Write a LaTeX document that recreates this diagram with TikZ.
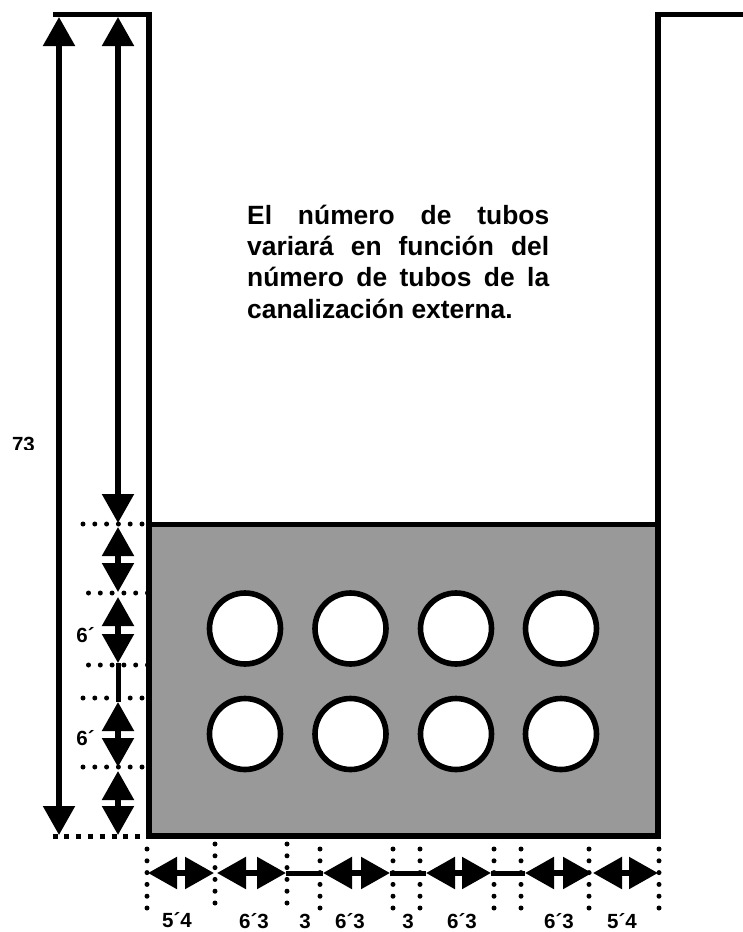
\documentclass[tikz,border=0pt]{standalone}
\usepackage{fontspec}
\setmainfont{Liberation Sans}
\usetikzlibrary{arrows.meta}
\tikzset{x=1pt,y=-1pt,
 wall/.style={line width=5.4pt,line cap=butt,line join=miter},
 dim/.style={line width=5pt},
 dimarrow/.style={line width=5.4pt,{Triangle[length=29pt,width=31pt]}-{Triangle[length=29pt,width=31pt]}},
 dots/.style={line width=5pt,line cap=round,dash pattern=on 0pt off 11.8pt},
 tube/.style={draw=black,fill=white,line width=5.6pt,circle,minimum size=71pt,inner sep=0pt},
 lab/.style={font=\bfseries\fontsize{20.5}{22}\selectfont,inner sep=0pt},
 note/.style={font=\bfseries\fontsize{26.4}{31.2}\selectfont,inner sep=0pt,text width=302pt,align=justify,anchor=north west}}
\begin{document}
\begin{tikzpicture}
\useasboundingbox (0,0) rectangle (743,932);
\coordinate (tl0) at (53,14.5);
\coordinate (tl) at (149,14.5);
\coordinate (bl) at (149,836);
\coordinate (br) at (658,836);
\coordinate (tr) at (658,14.5);
\coordinate (tr1) at (743,14.5);
\coordinate (ml) at (149,524.5);
\coordinate (mr) at (658,524.5);
\fill[black!40!white] (ml) rectangle (br);
\draw[wall] (tl0) -- (tl) -- (bl) -- (br) -- (tr) -- (tr1);
\draw[wall] (ml) -- (mr);
\foreach \n/\x in {a/245,b/350.5,c/456,d/561}{
 \node[tube] (\n1) at (\x,628.5) {};
 \node[tube] (\n2) at (\x,734) {};
}
\node[note] (txt) at (247,205) {El número de tubos\linebreak variará en función del\linebreak número de tubos de la\linebreak canalización externa.};
% long arrows
\coordinate (a1t) at (59,17); \coordinate (a1b) at (59,835);
\coordinate (a2t) at (118,17); \coordinate (a2b) at (118,523);
\draw[dimarrow] (a1t) -- (a1b);
\draw[dimarrow] (a2t) -- (a2b);
% vertical chain
\foreach \n/\y in {p1/527,p2/592,p3/597,p4/663,p5/702,p6/767,p7/771,p8/835}{\coordinate (\n) at (118,\y);}
\draw[dimarrow] (p1) -- (p2);
\draw[dimarrow] (p3) -- (p4);
\draw[dim] (p4) -- (p5);
\draw[dimarrow] (p5) -- (p6);
\draw[dimarrow] (p7) -- (p8);
% horizontal dotted
\coordinate (d1a) at (83,524); \coordinate (d1b) at (146,524);
\coordinate (d2a) at (88.5,593); \coordinate (d2b) at (148,593);
\coordinate (d3a) at (88.5,665); \coordinate (d3b) at (148,665);
\coordinate (d4a) at (83,698); \coordinate (d4b) at (146,698);
\coordinate (d5a) at (83,767); \coordinate (d5b) at (146,767);
\draw[dots] (d1a) -- (d1b);
\draw[dots] (d2a) -- (d2b);
\draw[dots] (d3a) -- (d3b);
\draw[dots] (d4a) -- (d4b);
\draw[dots] (d5a) -- (d5b);
\coordinate (d6a) at (52.5,836); \coordinate (d6b) at (147,836);
\draw[line width=5pt,dash pattern=on 5pt off 6.8pt] (d6a) -- (d6b);
% bottom chain
\foreach \n/\x in {q1/148,q2/214,q3/217,q4/286,q5/323,q6/390,q7/426,q8/491,q9/525,q10/592,q11/593,q12/658}{
 \coordinate (\n) at (\x,873);
}
\draw[dimarrow] (q1) -- (q2);
\draw[dimarrow] (q3) -- (q4);
\draw[dim] (q4) -- (q5);
\draw[dimarrow] (q5) -- (q6);
\draw[dim] (q6) -- (q7);
\draw[dimarrow] (q7) -- (q8);
\draw[dim] (q8) -- (q9);
\draw[dimarrow] (q9) -- (q10);
\draw[dimarrow] (q11) -- (q12);
% bottom dotted
\foreach \x/\s in {147/849,215/844,287/844,320/849,393/849,420/849,494/849,521/849,589/849,659/849}{
 \coordinate (u) at (\x,\s);
 \coordinate (v) at (\x,\s+60);
 \draw[dots] (u) -- (v);
}
% labels
\begin{scope}
\clip (0,420) rectangle (60,449.5);
\node[lab] (l73) at (23.5,444) {73};
\end{scope}
\node[lab] (l61) at (85.5,635.5) {6´};
\node[lab] (l62) at (85.5,738.5) {6´};
\node[lab] (b1) at (177,920.5) {5´4};
\node[lab] (b2) at (254,921.5) {6´3};
\node[lab] (b3) at (305,921.5) {3};
\node[lab] (b4) at (350,921.5) {6´3};
\node[lab] (b5) at (408,921.5) {3};
\node[lab] (b6) at (462,921.5) {6´3};
\node[lab] (b7) at (559,921.5) {6´3};
\node[lab] (b8) at (622,921.5) {5´4};
\end{tikzpicture}
\end{document}
